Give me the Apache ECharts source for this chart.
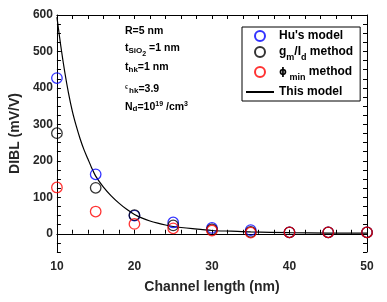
<!DOCTYPE html>
<html>
<head>
<meta charset="utf-8">
<script src="https://cdn.jsdelivr.net/npm/echarts@6/dist/echarts.min.js"></script>
<style>html,body{margin:0;padding:0;background:#fff}#c{width:387px;height:302px}</style>
</head>
<body>
<div id="c"></div>
<script>
// Data
var channelLength = [10, 15, 20, 25, 30, 35, 40, 45, 50];
var huModel   = [427, 163, 50, 31, 16, 10, 4, 4, 4];
var gmIdMethod = [276, 126, 51, 23, 12, 5, 4, 4, 4];
var phiMinMethod = [127, 61, 27, 15, 9, 3, 4, 4, 4];
var modelX = [10, 10.5, 11, 11.5, 12, 12.5, 13, 13.5, 14, 14.5, 15, 16, 17, 18, 19, 20, 21, 22, 23, 24, 25, 27.5, 30, 32.5, 35, 40, 45, 50];
var modelY = [594, 515, 445, 385, 335, 295, 260, 230, 205, 180, 158, 128, 104, 84, 67, 53, 43, 35, 29, 24, 20, 14, 9, 7, 5, 3, 2, 1.5];
var xTickLabels = [10, 20, 30, 40, 50];
var yTickLabels = [0, 100, 200, 300, 400, 500, 600];

var FONT = 'Liberation Sans, Arial, sans-serif';
var TXT = '#262626';

function pairs(xs, ys) { return xs.map(function (x, i) { return [x, ys[i]]; }); }

var chart = echarts.init(document.getElementById('c'), null, {renderer: 'canvas'});

var scatterBase = function (name, data, color) {
  return {
    name: name, type: 'scatter', data: pairs(channelLength, data),
    xAxisIndex: 0, yAxisIndex: 0,
    symbol: 'circle', symbolSize: 10.5,
    itemStyle: {color: 'rgba(0,0,0,0)', borderColor: color, borderWidth: 1.3},
    z: 3
  };
};

var rich = {
  b: {fontFamily: FONT, fontWeight: 'bold', fontSize: 10.5, color: '#000', lineHeight: 18, verticalAlign: 'middle'},
  s: {fontFamily: FONT, fontWeight: 'bold', fontSize: 8, color: '#000', lineHeight: 18, verticalAlign: 'bottom', padding: [0, 0, 3, 0]},
  ss: {fontFamily: FONT, fontWeight: 'bold', fontSize: 7, color: '#000', lineHeight: 18, verticalAlign: 'bottom'},
  sp: {fontFamily: FONT, fontWeight: 'bold', fontSize: 7, color: '#000', lineHeight: 18, verticalAlign: 'top', padding: [3, 0, 0, 0]},
  e: {fontFamily: FONT, fontSize: 7, color: '#000', lineHeight: 18, verticalAlign: 'top', padding: [4, 1, 0, 0]}
};

var legendRich = {
  a: {fontFamily: FONT, fontWeight: 'bold', fontSize: 12, color: '#000', lineHeight: 16, verticalAlign: 'middle'},
  s: {fontFamily: FONT, fontWeight: 'bold', fontSize: 9, color: '#000', lineHeight: 16, verticalAlign: 'bottom', padding: [0, 0, -2, 0]},
  p: {fontFamily: 'DejaVu Sans, sans-serif', fontSize: 10, color: '#000', lineHeight: 16, verticalAlign: 'middle'}
};

var legendNames = {
  "Hu's model": "{a|Hu's model}",
  'gm/Id method': '{a|g}{s|m}{a|/I}{s|d}{a| method}',
  'phimin method': '{p|ϕ}{s| min}{a| method}',
  'This model': '{a|This model}'
};

chart.setOption({
  animation: false,
  backgroundColor: '#fff',
  grid: {left: 55, right: 20, top: 15, bottom: 50, containLabel: false},
  xAxis: [{
    type: 'value', min: 10, max: 50, interval: 2,
    name: 'Channel length (nm)', nameLocation: 'middle', nameGap: 28,
    nameTextStyle: {fontFamily: FONT, fontWeight: 'bold', fontSize: 14, color: TXT},
    axisLine: {show: true, lineStyle: {color: '#000', width: 1}},
    axisTick: {show: true, inside: true, length: 4, lineStyle: {color: '#000'}},
    axisLabel: {
      margin: 9, fontFamily: FONT, fontWeight: 'bold', fontSize: 12, color: TXT,
      formatter: function (v) { return xTickLabels.indexOf(v) >= 0 ? String(v) : ''; }
    },
    splitLine: {show: false}
  }, {
    type: 'value', min: 10, max: 50, interval: 2, position: 'top',
    axisLine: {show: true, onZero: false, lineStyle: {color: '#000', width: 1}},
    axisTick: {show: true, inside: true, length: 4, lineStyle: {color: '#000'}},
    axisLabel: {show: false}, splitLine: {show: false}
  }],
  yAxis: [{
    type: 'value', min: -50, max: 600, interval: 25,
    name: 'DIBL (mV/V)', nameLocation: 'middle', nameGap: 33, nameRotate: 90,
    nameTextStyle: {fontFamily: FONT, fontWeight: 'bold', fontSize: 14, color: TXT},
    axisLine: {show: true, onZero: false, lineStyle: {color: '#000', width: 1}},
    axisTick: {show: true, inside: true, length: 4, lineStyle: {color: '#000'}},
    axisLabel: {
      margin: 4, fontFamily: FONT, fontWeight: 'bold', fontSize: 12, color: TXT,
      formatter: function (v) { return yTickLabels.indexOf(v) >= 0 ? String(v) : ''; }
    },
    splitLine: {show: false}
  }, {
    type: 'value', min: -50, max: 600, interval: 25, position: 'right',
    axisLine: {show: true, onZero: false, lineStyle: {color: '#000', width: 1}},
    axisTick: {show: true, inside: true, length: 4, lineStyle: {color: '#000'}},
    axisLabel: {show: false}, splitLine: {show: false}
  }],
  legend: {
    orient: 'vertical', left: 242, top: 27,
    itemWidth: 28, itemHeight: 10, itemGap: 4,
    padding: [3, 7, 3, 3],
    borderColor: '#000', borderWidth: 1, backgroundColor: '#fff',
    data: ["Hu's model", 'gm/Id method', 'phimin method',
      {name: 'This model', itemStyle: {opacity: 0}}],
    formatter: function (name) { return legendNames[name]; },
    textStyle: {rich: legendRich, fontFamily: FONT, fontWeight: 'bold', fontSize: 12, color: '#000'},
    selectedMode: false
  },
  graphic: [
    {type: 'text', left: 125, top: 26, style: {text: '{b|R=5 nm}', rich: rich}},
    {type: 'text', left: 125, top: 43, style: {text: '{b|t}{s|SiO}{ss|2}{b| =1 nm}', rich: rich}},
    {type: 'text', left: 125, top: 62, style: {text: '{b|t}{s|hk}{b|=1 nm}', rich: rich}},
    {type: 'text', left: 125, top: 80, style: {text: '{e|ϵ}{s|hk}{b|=3.9}', rich: rich}},
    {type: 'text', left: 125, top: 98, style: {text: '{b|N}{s|d}{b|=10}{sp|19}{b| /cm}{sp|3}', rich: rich}}
  ],
  series: [
    scatterBase("Hu's model", huModel, '#0000ff'),
    scatterBase('gm/Id method', gmIdMethod, '#000000'),
    scatterBase('phimin method', phiMinMethod, '#ff0000'),
    {
      name: 'This model', type: 'line', data: pairs(modelX, modelY),
      xAxisIndex: 0, yAxisIndex: 0,
      symbol: 'none', smooth: 0.3, clip: true,
      lineStyle: {color: '#000', width: 1.2}, itemStyle: {color: '#000'}, z: 2
    }
  ]
});
</script>
</body>
</html>
